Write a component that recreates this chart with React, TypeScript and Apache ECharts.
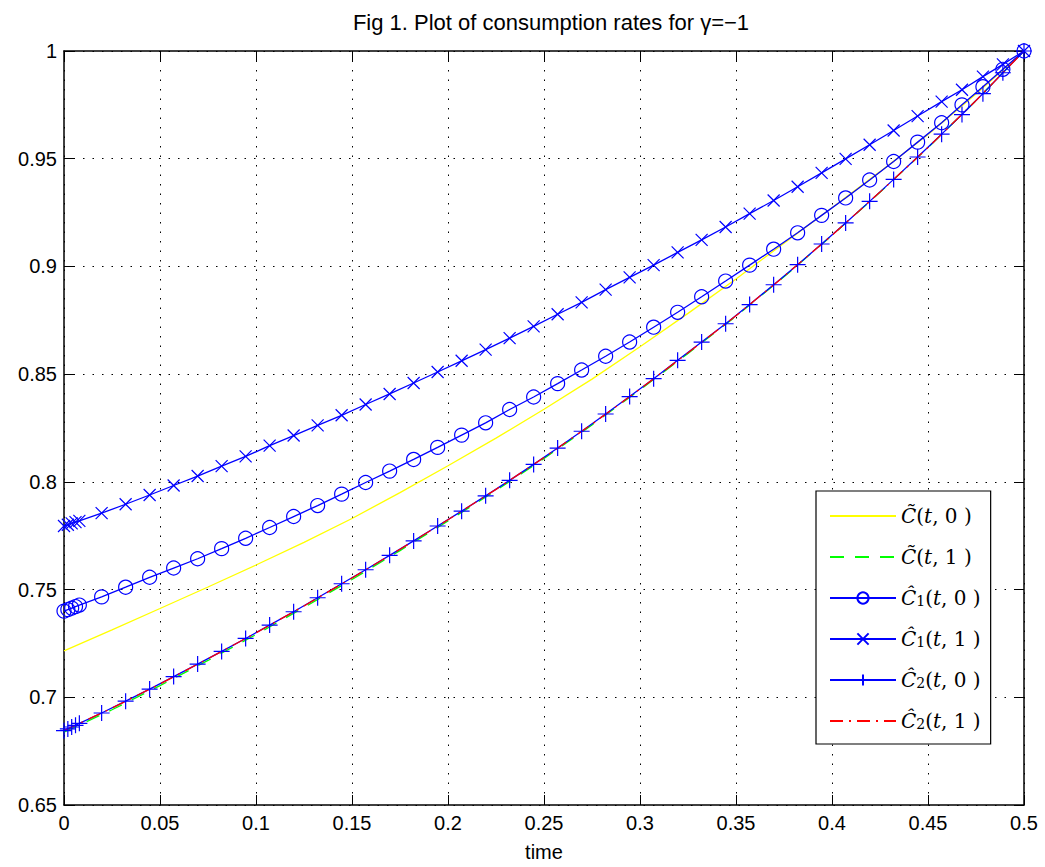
import React, { useEffect, useRef } from "react";
import * as echarts from "echarts";

// time grid of the marker curves
const T = [
  0, 0.002, 0.004, 0.006, 0.008,
  0.0196, 0.0321, 0.0446, 0.0571, 0.0696, 0.0821, 0.0946, 0.1071, 0.1196, 0.1321,
  0.1446, 0.1571, 0.1696, 0.1821, 0.1946, 0.2071, 0.2196, 0.2321, 0.2446, 0.2571,
  0.2696, 0.2821, 0.2946, 0.3071, 0.3196, 0.3321, 0.3446, 0.3571, 0.3696, 0.3821,
  0.3946, 0.4071, 0.4196, 0.4321, 0.4446, 0.4571,
  0.4677, 0.4786, 0.489, 0.5,
];

// Ĉ1(t,0) — circles
const C1_T0 = [
  0.74, 0.7407, 0.7414, 0.7421, 0.7428,
  0.7466, 0.7511, 0.7557, 0.76, 0.7643, 0.769, 0.7738, 0.7788, 0.7839, 0.789,
  0.7943, 0.7997, 0.805, 0.8104, 0.816, 0.8217, 0.8274, 0.8336, 0.8394, 0.8456,
  0.8519, 0.8583, 0.8649, 0.8718, 0.8787, 0.8859, 0.8932, 0.9006, 0.908, 0.9156,
  0.9237, 0.9318, 0.9401, 0.9487, 0.9577, 0.9667,
  0.975, 0.9834, 0.9915, 1.0,
];

// Ĉ1(t,1) — crosses
const C1_T1 = [
  0.7795, 0.7801, 0.7807, 0.7813, 0.7819,
  0.7855, 0.7896, 0.7939, 0.7983, 0.8027, 0.8073, 0.8118, 0.8168, 0.8215, 0.8262,
  0.8309, 0.8359, 0.8408, 0.8459, 0.851, 0.8562, 0.8614, 0.8667, 0.8722, 0.8778,
  0.8833, 0.8892, 0.8949, 0.9006, 0.9065, 0.9123, 0.9183, 0.9245, 0.9306, 0.937,
  0.9434, 0.9499, 0.9565, 0.9631, 0.9698, 0.9765,
  0.982, 0.9881, 0.9938, 1.0,
];

// Ĉ2(t,0) — plus markers
const C2_T0 = [
  0.6845, 0.6853, 0.6862, 0.687, 0.6879,
  0.6927, 0.6982, 0.7038, 0.7096, 0.7154, 0.7213, 0.7273, 0.7335, 0.7397, 0.7462,
  0.7527, 0.7592, 0.7659, 0.7726, 0.7795, 0.7864, 0.7935, 0.8007, 0.8081, 0.8157,
  0.8235, 0.8315, 0.8396, 0.8479, 0.8564, 0.8649, 0.8734, 0.8823, 0.8915, 0.9008,
  0.9104, 0.9202, 0.9302, 0.9404, 0.9508, 0.9614,
  0.9705, 0.9802, 0.9899, 1.0,
];

// time grid of the plain curves
const T_LINE = [
  0, 0.025, 0.05, 0.075, 0.1, 0.125, 0.15, 0.175, 0.2, 0.225, 0.25,
  0.275, 0.3, 0.325, 0.35, 0.375, 0.4, 0.425, 0.45, 0.475, 0.5,
];

// C̃(t,0) — yellow
const CT_T0 = [
  0.7215, 0.7313, 0.7412, 0.7512, 0.7614, 0.7719, 0.783, 0.795, 0.8075, 0.8203, 0.8337,
  0.8477, 0.8627, 0.8782, 0.8942, 0.9108, 0.9272, 0.944, 0.9612, 0.98, 1.0,
];

// C̃(t,1) — green dashed
const CT_T1 = [
  0.6838, 0.6942, 0.7054, 0.7171, 0.7291, 0.7417, 0.7547, 0.7681, 0.7818, 0.796, 0.8108,
  0.8264, 0.8427, 0.8596, 0.8769, 0.8952, 0.9144, 0.9344, 0.9551, 0.977, 1.0,
];

// Ĉ2(t,1) — red dash-dot
const C2_T1 = [
  0.6845, 0.695, 0.7062, 0.7179, 0.7299, 0.7424, 0.7554, 0.7687, 0.7824, 0.7965, 0.8113,
  0.8268, 0.8431, 0.8599, 0.8771, 0.8954, 0.9145, 0.9345, 0.9552, 0.977, 1.0,
];

const NAMES = [
  "C\u0303(t, 0)",
  "C\u0303(t, 1)",
  "\u0108\u2081(t, 0)",
  "\u0108\u2081(t, 1)",
  "\u0108\u2082(t, 0)",
  "\u0108\u2082(t, 1)",
];

const TITLE = "Fig 1. Plot of consumption rates for \u03b3=\u22121";
const X_NAME = "time";

const zip = (xs: number[], ys: number[]) => xs.map((x, i) => [x, ys[i]]);

const BLUE = "#0000ff";
const SANS = "'Liberation Sans', Arial, Helvetica, sans-serif";
const SERIF = "'DejaVu Serif', 'Liberation Serif', serif";

const legendLabel = (name: string) =>
  name
    .replace(/^C\u0303/, "{i|C\u0303}")
    .replace(/^\u0108\u2081/, "{i|\u0108}{s|1}")
    .replace(/^\u0108\u2082/, "{i|\u0108}{s|2}")
    .replace("(t, ", "({i|t}, ")
    .replace(/(\d)\)$/, "$1 )");

export default function App() {
  const ref = useRef<HTMLDivElement>(null);
  useEffect(() => {
    if (!ref.current) return;
    const chart = echarts.init(ref.current, null, { renderer: "svg" });

    const axisCommon = {
      type: "value" as const,
      axisLine: { show: true, onZero: false, lineStyle: { color: "#000", width: 1.5 } },
      axisTick: { show: true, inside: true, length: 10, lineStyle: { color: "#000", width: 1 } },
    };
    const gridLine = { show: true, lineStyle: { color: "#000", width: 1, type: [1.5, 8] } };
    const noSymbol = { color: "rgba(0,0,0,0)", borderWidth: 0, opacity: 0 };

    chart.setOption({
      animation: false,
      backgroundColor: "#fff",
      title: {
        text: TITLE,
        left: 546,
        top: 6,
        textAlign: "center",
        textStyle: { fontFamily: SANS, fontSize: 22, fontWeight: "normal", color: "#000" },
      },
      grid: { left: 64, right: 21, top: 51, bottom: 59, containLabel: false },
      xAxis: [
        {
          ...axisCommon,
          position: "bottom",
          min: 0,
          max: 0.5,
          interval: 0.05,
          splitLine: gridLine,
          axisLabel: { fontFamily: SANS, fontSize: 20, color: "#000", margin: 8 },
          name: X_NAME,
          nameLocation: "middle",
          nameGap: 37,
          nameTextStyle: { fontFamily: SANS, fontSize: 20, color: "#000" },
        },
        {
          ...axisCommon,
          position: "top",
          min: 0,
          max: 0.5,
          interval: 0.05,
          splitLine: { show: false },
          axisLabel: { show: false },
        },
      ],
      yAxis: [
        {
          ...axisCommon,
          position: "left",
          min: 0.65,
          max: 1,
          interval: 0.05,
          splitLine: gridLine,
          axisLabel: { fontFamily: SANS, fontSize: 20, color: "#000", margin: 7 },
        },
        {
          ...axisCommon,
          position: "right",
          min: 0.65,
          max: 1,
          interval: 0.05,
          splitLine: { show: false },
          axisLabel: { show: false },
        },
      ],
      legend: {
        orient: "vertical",
        left: 816,
        top: 491,
        itemWidth: 66,
        itemHeight: 14,
        itemGap: 19,
        padding: [14, 10, 12, 13],
        borderColor: "#000",
        borderWidth: 1.2,
        backgroundColor: "#fff",
        selectedMode: false,
        data: [
          { name: NAMES[0], itemStyle: noSymbol },
          { name: NAMES[1], itemStyle: noSymbol },
          { name: NAMES[2] },
          { name: NAMES[3] },
          { name: NAMES[4] },
          { name: NAMES[5], itemStyle: noSymbol },
        ],
        formatter: legendLabel,
        textStyle: {
          fontFamily: SERIF,
          fontSize: 20,
          lineHeight: 22,
          color: "#000",
          rich: {
            i: { fontFamily: SERIF, fontSize: 20, lineHeight: 22, fontStyle: "italic", color: "#000" },
            s: { fontFamily: SERIF, fontSize: 14, lineHeight: 16, padding: [6, 0, 0, 0], color: "#000" },
          },
        },
      },
      series: [
        {
          name: NAMES[0],
          type: "line",
          data: zip(T_LINE, CT_T0),
          symbol: "none",
          itemStyle: { color: "#ffff00" },
          lineStyle: { color: "#ffff00", width: 1.3 },
        },
        {
          name: NAMES[1],
          type: "line",
          data: zip(T_LINE, CT_T1),
          symbol: "none",
          itemStyle: { color: "#00ff00" },
          lineStyle: { color: "#00ff00", width: 1.3, type: [14, 11] },
        },
        {
          name: NAMES[2],
          type: "line",
          data: zip(T, C1_T0),
          symbol: "circle",
          symbolSize: 14,
          showAllSymbol: true,
          itemStyle: { color: "rgba(0,0,0,0)", borderColor: BLUE, borderWidth: 1.2 },
          lineStyle: { color: BLUE, width: 1.3 },
        },
        {
          name: NAMES[3],
          type: "line",
          data: zip(T, C1_T1),
          symbol: "path://M0,0L10,10M10,0L0,10",
          symbolSize: 12,
          showAllSymbol: true,
          itemStyle: { color: BLUE, borderColor: BLUE, borderWidth: 1.2 },
          lineStyle: { color: BLUE, width: 1.3 },
        },
        {
          name: NAMES[4],
          type: "line",
          data: zip(T, C2_T0),
          symbol: "path://M5,0L5,10M0,5L10,5",
          symbolSize: 16,
          showAllSymbol: true,
          itemStyle: { color: BLUE, borderColor: BLUE, borderWidth: 1.2 },
          lineStyle: { color: BLUE, width: 1.3 },
        },
        {
          name: NAMES[5],
          type: "line",
          data: zip(T_LINE, C2_T1),
          symbol: "none",
          itemStyle: { color: "#ff0000" },
          lineStyle: { color: "#ff0000", width: 1.3, type: [13, 6, 2, 6] },
        },
      ],
    });
    return () => chart.dispose();
  }, []);
  return (
    <div
      ref={ref}
      style={{ position: "fixed", left: 0, top: 0, width: 1045, height: 867, background: "#fff" }}
    />
  );
}
